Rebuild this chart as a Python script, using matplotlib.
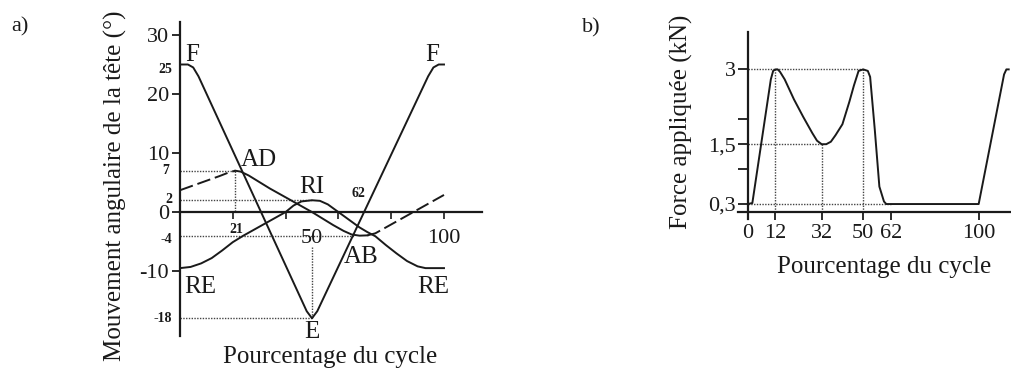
import matplotlib.pyplot as plt

plt.rcParams['font.family'] = ['Liberation Serif', 'DejaVu Serif']
plt.rcParams['axes.unicode_minus'] = False

INK = '#1a1a1a'

# --- panel a : head angular movement over the cycle ---
fe_x = [0, 3, 5, 7, 48, 50, 52, 94, 96, 98, 100]
fe_y = [25, 25, 24.5, 23, -16.8, -18, -16.8, 23, 24.5, 25, 25]

adab_x = [0, 5, 10, 15, 19, 21, 23, 26, 30, 34, 38, 42, 46, 50, 54, 58, 62, 65, 68, 71,
          74, 80, 86, 92, 100]
adab_y = [3.7, 4.5, 5.3, 6.1, 6.8, 7.0, 6.85, 6.2, 5.1, 4.0, 3.0, 2.0, 1.0, 0.0, -1.1, -2.2,
          -3.2, -3.8, -4.0, -3.95, -3.6, -2.1, -0.6, 0.9, 2.9]

ri_x = [0, 4, 8, 12, 16, 20, 24, 28, 32, 36, 40, 43, 46, 50, 53, 56, 60, 64, 68, 71, 74,
        78, 82, 86, 90, 93, 100]
ri_y = [-9.5, -9.3, -8.7, -7.8, -6.5, -5.1, -4.0, -3.0, -2.0, -1.0, 0.0, 1.1, 1.8, 2.0, 1.9,
        1.3, 0.0, -1.3, -2.6, -3.4, -4.1, -5.6, -7.0, -8.3, -9.2, -9.5, -9.5]

a_yticks = [-10, 0, 10, 20, 30]
a_xticks = [20, 40, 60, 80, 100]

# --- panel b : applied force over the cycle ---
force_x = [0, 2, 10, 11, 12, 13, 14, 16, 17, 20, 24, 28, 30, 32, 34, 36, 38, 41, 44, 46, 48,
           50, 52, 53, 55, 57, 59, 60, 100, 111, 112, 113]
force_y = [0.3, 0.32, 2.8, 2.97, 3.0, 3.0, 2.95, 2.8, 2.7, 2.4, 2.05, 1.72, 1.57, 1.5, 1.5,
           1.55, 1.68, 1.9, 2.35, 2.68, 2.97, 3.0, 2.97, 2.85, 1.8, 0.65, 0.35, 0.3, 0.3,
           2.9, 3.0, 3.0]
b_xticks = [0, 12, 32, 50, 62, 100]
b_yticks = [0.3, 1, 1.5, 2, 3]
b_ylabels = ['0,3', '', '1,5', '', '3']

fig = plt.figure(figsize=(10.12, 3.76), dpi=100)

# ================= a =================
axa = fig.add_axes([180 / 1012, 1 - 336 / 376, 302 / 1012, 314 / 376])
axa.set_xlim(0, 114.4)
axa.set_ylim(-21, 32.2)
for s in ['top', 'right']:
    axa.spines[s].set_visible(False)
axa.spines['bottom'].set_position(('data', 0))
for s in ['left', 'bottom']:
    axa.spines[s].set_linewidth(1.6)
    axa.spines[s].set_color(INK)

axa.set_yticks(a_yticks, [str(v) for v in a_yticks])
axa.set_xticks(a_xticks, [''] * len(a_xticks))
axa.tick_params(axis='y', direction='out', length=6, width=1.3, pad=2, labelsize=16,
                colors=INK)
axa.tick_params(axis='x', direction='out', length=5, width=1.2, colors=INK)

# guide lines
dot = dict(color='#444444', lw=1.0, ls=(0, (1, 1)))
axa.plot([0, 21], [7, 7], **dot)
axa.plot([21, 21], [7, 0], **dot)
axa.plot([0, 50], [2, 2], **dot)
axa.plot([0, 66], [-4, -4], **dot)
axa.plot([50, 50], [-6, -18], **dot)
axa.plot([0, 50], [-18, -18], **dot)

# curves
axa.plot(fe_x, fe_y, color=INK, lw=1.4)
axa.plot(ri_x, ri_y, color=INK, lw=1.4)
i21 = adab_x.index(21)
i71 = adab_x.index(71)
axa.plot(adab_x[:i21 + 1], adab_y[:i21 + 1], color=INK, lw=1.4, ls=(0, (7, 2.5)))
axa.plot(adab_x[i21:i71 + 1], adab_y[i21:i71 + 1], color=INK, lw=1.4)
axa.plot(adab_x[i71:], adab_y[i71:], color=INK, lw=1.4, ls=(0, (7, 2.5)))

# value labels
ytr = axa.get_yaxis_transform()
small = dict(fontsize=10, fontweight='bold', color=INK, va='center')
axa.text(-0.026, 24.2, '25', transform=ytr, ha='right', **small)
axa.text(-0.036, 7, '7', transform=ytr, ha='right', **small)
axa.text(-0.026, 2.2, '2', transform=ytr, ha='right', **small)
axa.text(-0.026, -4.6, '-4', transform=ytr, ha='right', **small)
axa.text(-0.026, -18, '-18', transform=ytr, ha='right', **small)
axa.text(21.5, -3.0, '21', ha='center', **small)
axa.text(67.5, 3.2, '62', ha='center', **small)
axa.text(50, -4.4, '50', ha='center', va='center', fontsize=16, color=INK)
axa.text(100, -4.4, '100', ha='center', va='center', fontsize=16, color=INK)

big = dict(fontsize=18, color=INK, ha='center', va='center')
axa.text(4.5, 26.6, 'F', **big)
axa.text(95.4, 26.6, 'F', **big)
axa.text(29.7, 8.8, 'AD', **big)
axa.text(50, 4.3, 'RI', **big)
axa.text(50, -20.3, 'E', **big)
axa.text(68.8, -7.6, 'AB', **big)
axa.text(7.6, -12.7, 'RE', **big)
axa.text(96, -12.7, 'RE', **big)

axa.text(-0.215, 0.478, 'Mouvement angulaire de la tête (°)', transform=axa.transAxes,
         rotation=90, fontsize=18, color=INK, ha='center', va='center')
axa.text(0.497, -0.067, 'Pourcentage du cycle', transform=axa.transAxes,
         fontsize=18, color=INK, ha='center', va='center')

# ================= b =================
axb = fig.add_axes([738.5 / 1012, 1 - 219 / 376, 272.5 / 1012, 187 / 376])
axb.set_xlim(-4, 114)
axb.set_ylim(0, 3.75)
for s in ['top', 'right']:
    axb.spines[s].set_visible(False)
axb.spines['left'].set_position(('data', 0))
axb.spines['bottom'].set_position(('data', 0.15))
for s in ['left', 'bottom']:
    axb.spines[s].set_linewidth(1.6)
    axb.spines[s].set_color(INK)

axb.set_xticks(b_xticks, [str(v) for v in b_xticks])
axb.set_yticks(b_yticks, b_ylabels)
axb.tick_params(axis='x', direction='out', length=6, width=1.3, pad=3, labelsize=16,
                colors=INK)
axb.tick_params(axis='y', direction='out', length=7, width=1.3, pad=1.5, labelsize=16,
                colors=INK)

axb.plot([0, 50], [3, 3], **dot)
axb.plot([0, 32], [1.5, 1.5], **dot)
axb.plot([0, 62], [0.3, 0.3], **dot)
for xv, yv in [(12, 3), (32, 1.5), (50, 3)]:
    axb.plot([xv, xv], [yv, 0.15], **dot)

axb.plot(force_x, force_y, color=INK, lw=1.4)

axb.text(-0.2084, 0.52, 'Force appliquée (kN)', transform=axb.transAxes, rotation=90,
         fontsize=18, color=INK, ha='center', va='center')
axb.text(0.534, -0.257, 'Pourcentage du cycle', transform=axb.transAxes,
         fontsize=18, color=INK, ha='center', va='center')

fig.text(20 / 1012, 1 - 27 / 376, 'a)', fontsize=16, color=INK, ha='center', va='center')
fig.text(591 / 1012, 1 - 28 / 376, 'b)', fontsize=16, color=INK, ha='center', va='center')

fig.savefig('out.png', dpi=100, facecolor='white')
